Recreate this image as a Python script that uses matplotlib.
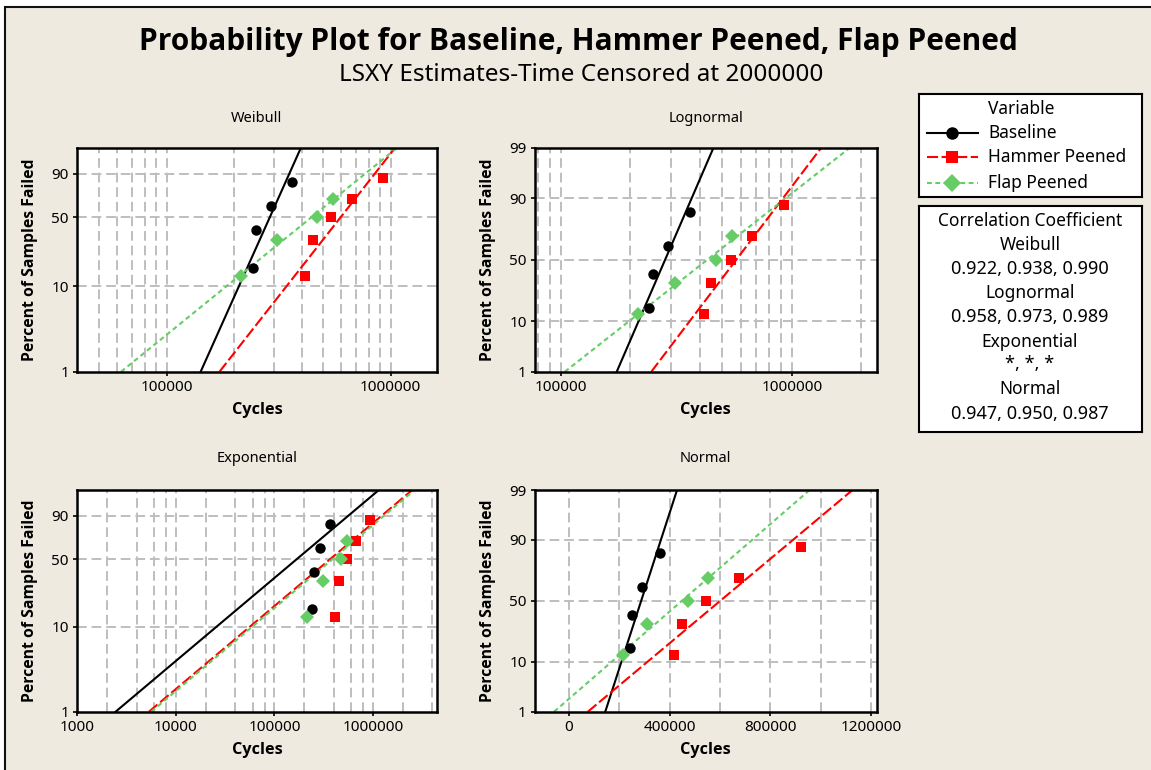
import numpy as np
from statistics import NormalDist
import matplotlib
matplotlib.use("Agg")
import matplotlib.pyplot as plt
from matplotlib.lines import Line2D
from matplotlib.patches import Rectangle
from matplotlib.ticker import FixedLocator, NullLocator, FixedFormatter

plt.rcParams["font.family"] = ["Noto Sans", "DejaVu Sans"]
plt.rcParams["lines.scale_dashes"] = False
BOLD = ["Open Sans", "DejaVu Sans"]

W, H = 1151, 770

# ---- data -------------------------------------------------------------
series_names = ["Baseline", "Hammer Peened", "Flap Peened"]
baseline_cycles = [242000, 251000, 291000, 363000]
hammer_cycles = [416000, 448000, 543000, 675000, 922000]
flap_cycles = [215000, 311000, 471000, 551000]      # failures only
sample_sizes = [4, 5, 5]                             # flap: 1 unit censored
censor_time = 2000000

dist_names = ["Weibull", "Lognormal", "Exponential", "Normal"]
corr_values = ["0.922, 0.938, 0.990", "0.958, 0.973, 0.989",
               "*, *, *", "0.947, 0.950, 0.987"]

pct_ticks_short = [1, 10, 50, 90]
pct_ticks_full = [1, 10, 50, 90, 99]

# ---- styles -----------------------------------------------------------
BG = "#EEEAE0"
GRID = "#BEBEBE"
colors = ["#000000", "#FF0000", "#66CC66"]
markers = ["o", "s", "D"]
msizes = [7.5, 7.5, 7.5]
lstyles = ["-", (0, (8, 2.5)), (0, (3.5, 2.5))]

# ---- probability transforms ------------------------------------------
_nd = NormalDist()
_ppf = np.vectorize(_nd.inv_cdf, otypes=[float])
_cdf = np.vectorize(_nd.cdf, otypes=[float])


def weib_fwd(p):
    q = np.clip(np.asarray(p, float) / 100.0, 1e-12, 1 - 1e-12)
    return np.log(-np.log1p(-q))


def weib_inv(y):
    return 100.0 * -np.expm1(-np.exp(np.asarray(y, float)))


def norm_fwd(p):
    q = np.clip(np.asarray(p, float) / 100.0, 1e-12, 1 - 1e-12)
    return _ppf(q)


def norm_inv(y):
    return 100.0 * _cdf(np.asarray(y, float))


def median_ranks(n_fail, n):
    i = np.arange(1, n_fail + 1)
    return 100.0 * (i - 0.3) / (n + 0.4)


def fit_line(dist, t, p, p_top):
    """Least squares (X on Y) fit; returns cycles and percents of the fitted line."""
    t = np.asarray(t, float)
    if dist in ("Weibull", "Exponential"):
        fwd, inv = weib_fwd, weib_inv
    else:
        fwd, inv = norm_fwd, norm_inv
    pg = inv(np.linspace(fwd(1.0), fwd(p_top), 400))
    if dist == "Exponential":
        u = -np.log1p(-p / 100.0)
        theta = np.sum(t * u) / np.sum(u * u)
        return theta * -np.log1p(-pg / 100.0), pg
    yv = fwd(p)
    xv = np.log(t) if dist in ("Weibull", "Lognormal") else t
    b, a = np.polyfit(yv, xv, 1)
    xl = a + b * fwd(pg)
    if dist in ("Weibull", "Lognormal"):
        xl = np.exp(xl)
    return xl, pg


def px_rect(x0, y0, x1, y1):
    return [x0 / W, 1 - y1 / H, (x1 - x0) / W, (y1 - y0) / H]


fig = plt.figure(figsize=(W / 100, H / 100), dpi=100, facecolor="white")
fig.patches.append(Rectangle((5 / W, -0.05), 1.1, 1 - 7 / H + 0.05,
                             transform=fig.transFigure, facecolor=BG,
                             edgecolor="#111111", linewidth=1.5, zorder=-10))

fig.text(578 / W, 1 - 42 / H, "Probability Plot for Baseline, Hammer Peened, Flap Peened",
         ha="center", va="center", fontsize=21.5, fontweight="bold", family=BOLD)
fig.text(581 / W, 1 - 75 / H, "LSXY Estimates-Time Censored at " + str(censor_time),
         ha="center", va="center", fontsize=17.5)

panels = {
    "Weibull": dict(rect=(77.3, 147.7, 436.7, 371.7), log=True, xlim=(39900, 1.605e6),
                    xticks=[1e5, 1e6],
                    xgrid=[5e4, 6e4, 7e4, 8e4, 9e4, 1e5, 2e5, 3e5, 4e5, 5e5, 6e5, 7e5, 8e5, 9e5, 1e6],
                    ptop=99.1, yt=pct_ticks_short, title_y=119, label_y=410),
    "Lognormal": dict(rect=(535, 147.7, 876.7, 371.7), log=True, xlim=(77400, 2.33e6),
                      xticks=[1e5, 1e6],
                      xgrid=[8e4, 9e4, 1e5, 2e5, 3e5, 4e5, 5e5, 6e5, 7e5, 8e5, 9e5, 1e6, 2e6],
                      ptop=99.0, yt=pct_ticks_full, title_y=119, label_y=410),
    "Exponential": dict(rect=(77.3, 490, 436.7, 711.7), log=True, xlim=(1000, 4.43e6),
                        xticks=[1e3, 1e4, 1e5, 1e6],
                        xgrid=[2e3, 4e3, 6e3, 8e3, 1e4, 2e4, 4e4, 6e4, 8e4, 1e5, 2e5, 4e5,
                               6e5, 8e5, 1e6, 2e6, 4e6],
                        ptop=99.1, yt=pct_ticks_short, title_y=459, label_y=750),
    "Normal": dict(rect=(535, 490, 876.7, 711.7), log=False, xlim=(-135000, 1222500),
                   xticks=[0, 400000, 800000, 1200000],
                   xgrid=[0, 2e5, 4e5, 6e5, 8e5, 1e6, 1.2e6],
                   ptop=99.0, yt=pct_ticks_full, title_y=459, label_y=750),
}

all_cycles = [baseline_cycles, hammer_cycles, flap_cycles]

for dist in dist_names:
    cfg = panels[dist]
    x0, y0, x1, y1 = cfg["rect"]
    ax = fig.add_axes(px_rect(x0, y0, x1, y1))
    ax.set_facecolor("white")
    if cfg["log"]:
        ax.set_xscale("log")
    if dist in ("Weibull", "Exponential"):
        ax.set_yscale("function", functions=(weib_fwd, weib_inv))
    else:
        ax.set_yscale("function", functions=(norm_fwd, norm_inv))
    ax.set_xlim(*cfg["xlim"])
    ax.set_ylim(1, cfg["ptop"])

    # grid lines
    for gx in cfg["xgrid"]:
        ax.axvline(gx, color=GRID, lw=1.4, ls=(0, (7, 3.5)), zorder=0)
    for gy in [10, 50, 90]:
        ax.axhline(gy, color=GRID, lw=1.4, ls=(0, (7, 3.5)), zorder=0)

    for k, (cyc, n) in enumerate(zip(all_cycles, sample_sizes)):
        p = median_ranks(len(cyc), n)
        xl, pl = fit_line(dist, cyc, p, cfg["ptop"])
        ax.plot(xl, pl, color=colors[k], lw=1.5, ls=lstyles[k], zorder=2)
        ax.plot(cyc, p, ls="none", marker=markers[k], color=colors[k],
                markersize=msizes[k], markeredgewidth=0, zorder=3)

    ax.xaxis.set_major_locator(FixedLocator(cfg["xticks"]))
    ax.xaxis.set_major_formatter(FixedFormatter([str(int(v)) for v in cfg["xticks"]]))
    ax.xaxis.set_minor_locator(NullLocator())
    ax.yaxis.set_major_locator(FixedLocator(cfg["yt"]))
    ax.yaxis.set_major_formatter(FixedFormatter([str(v) for v in cfg["yt"]]))
    ax.yaxis.set_minor_locator(NullLocator())
    ax.tick_params(axis="both", which="major", direction="out", length=3, width=1.2,
                   labelsize=11, pad=3, colors="black")
    for s in ax.spines.values():
        s.set_linewidth(1.8)
        s.set_color("black")

    cx = (x0 + x1) / 2
    fig.text(cx / W, 1 - cfg["title_y"] / H, dist, ha="center", va="center", fontsize=10.5)
    fig.text(cx / W, 1 - cfg["label_y"] / H, "Cycles", ha="center", va="center",
             fontsize=11.7, fontweight="bold", family=BOLD)
    fig.text((x0 - 47) / W, 1 - ((y0 + y1) / 2) / H, "Percent of Samples Failed",
             ha="center", va="center", rotation=90, fontsize=11.3, fontweight="bold",
             family=BOLD)

# ---- legend box -------------------------------------------------------
lg = fig.add_axes(px_rect(919, 94, 1142, 197))
lg.set_xlim(919, 1142)
lg.set_ylim(197, 94)
lg.set_xticks([])
lg.set_yticks([])
for s in lg.spines.values():
    s.set_linewidth(1.5)
lg.text(1021, 109, "Variable", ha="center", va="center", fontsize=12.5)
for k, (name, yy) in enumerate(zip(series_names, [133, 157, 183])):
    lg.add_line(Line2D([927, 978], [yy, yy], color=colors[k], lw=1.5, ls=lstyles[k]))
    lg.add_line(Line2D([952], [yy], color=colors[k], marker=markers[k],
                       markersize=msizes[k] + 1.5, markeredgewidth=0, ls="none"))
    lg.text(988, yy, name, ha="left", va="center", fontsize=12.5)

# ---- correlation box --------------------------------------------------
cb = fig.add_axes(px_rect(919, 206, 1142, 432))
cb.set_xlim(919, 1142)
cb.set_ylim(432, 206)
cb.set_xticks([])
cb.set_yticks([])
for s in cb.spines.values():
    s.set_linewidth(1.5)
lines = ["Correlation Coefficient"]
for d, v in zip(dist_names, corr_values):
    lines += [d, v]
sizes = [12.5] + [12.5, 13] * 4
for txt, yy, fs in zip(lines, [221, 245, 268.5, 293, 317, 342, 364, 389, 414], sizes):
    cb.text(1030, yy, txt, ha="center", va="center", fontsize=fs)

fig.savefig("out.png", dpi=100, facecolor="white")
